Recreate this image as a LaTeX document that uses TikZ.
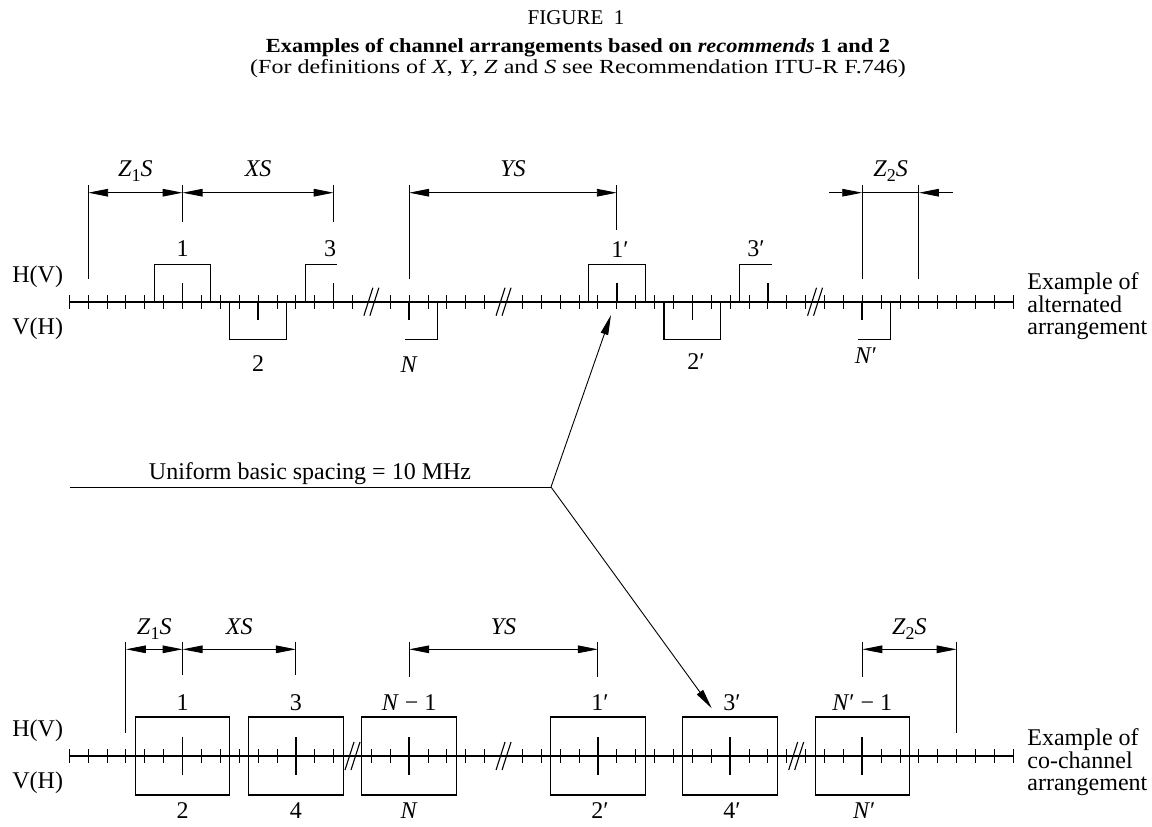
\documentclass[tikz,border=0pt]{standalone}
\usepackage{fontspec}
\setmainfont{Liberation Serif}
\newfontfamily\ttlfont[FakeStretch=1.12]{Liberation Serif}
\newfontfamily\subfont[FakeStretch=1.2]{Liberation Serif}
\usetikzlibrary{arrows.meta, positioning, calc}

\newcommand{\tk}[1]{69.3+18.88*(#1)}
\newcommand{\lowsub}[1]{\raisebox{-2.6pt}{\fontsize{9}{9}\selectfont #1}}

\begin{document}
\begin{tikzpicture}[
    x=0.5pt, y=-0.5pt,
    font=\fontsize{12}{13}\selectfont,
    >={Triangle[length=10pt, width=3.8pt]},
    axis/.style={line width=0.85pt},
    tick/.style={line width=0.45pt},
    bigtick/.style={line width=0.8pt},
    chbox/.style={line width=0.55pt},
    dimline/.style={line width=0.45pt},
    extline/.style={line width=0.45pt},
    brk/.style={line width=0.55pt},
    lbl/.style={inner sep=0pt},
    side/.style={inner sep=0pt, align=left, anchor=west, font=\fontsize{12}{10.8}\selectfont},
]
    \useasboundingbox (0,0) rectangle (1152,826);

    % Title
    \node[lbl, font=\fontsize{10.5}{12}\selectfont] (fig) at (576,18) {FIGURE\ \ 1};
    \node[lbl, align=center, font=\fontsize{10}{8.6}\selectfont] (ttl) at (578,58)
        {{\ttlfont\bfseries Examples of channel arrangements based on \textit{recommends} 1 and 2}\\
         {\subfont (For definitions of \textit{X}, \textit{Y}, \textit{Z} and \textit{S} see Recommendation ITU-R F.746)}};

    % Alternated arrangement
    \draw[axis] ({\tk{0}},301.7) -- ({\tk{50}},301.7);
    \foreach \a/\b in {0/15, 17/22, 24/50}
        \foreach \i in {\a,...,\b}
            \draw[tick] ({\tk{\i}},295) -- ({\tk{\i}},308.5);
    \foreach \i in {6,14,29,37}
        \draw[bigtick] ({\tk{\i}},301.7) -- ({\tk{\i}},283);
    \foreach \i in {10,18,33,42}
        \draw[bigtick] ({\tk{\i}},301.7) -- ({\tk{\i}},320.4);
    \foreach \b in {16,23,39.5} {
        \draw[brk] ({\tk{\b}-7.5},315.7) -- ({\tk{\b}+1.5},287.7);
        \draw[brk] ({\tk{\b}-1.5},315.7) -- ({\tk{\b}+7.5},287.7);
    }
    \draw[chbox] ({\tk{4.5}},301.7) |- ({\tk{7.5}},264.3) -- ({\tk{7.5}},301.7);
    \draw[chbox] ({\tk{8.5}},301.7) |- ({\tk{11.5}},339.3) -- ({\tk{11.5}},301.7);
    \draw[chbox] ({\tk{12.5}},301.7) |- ({\tk{14.2}},264.3);
    \draw[chbox] ({\tk{17.8}},339.3) -| ({\tk{19.5}},301.7);
    \draw[chbox] ({\tk{27.5}},301.7) |- ({\tk{30.5}},264.3) -- ({\tk{30.5}},301.7);
    \draw[chbox] ({\tk{31.5}},301.7) |- ({\tk{34.5}},339.3) -- ({\tk{34.5}},301.7);
    \draw[chbox] ({\tk{35.5}},301.7) |- ({\tk{37.2}},264.3);
    \draw[chbox] ({\tk{41.8}},339.3) -| ({\tk{43.5}},301.7);

    \node[lbl] (a1) at ({\tk{6}},249) {1};
    \node[lbl] (a3) at (330,249) {3};
    \node[lbl] (a1p) at (620,250) {1′};
    \node[lbl] (a3p) at (756,249) {3′};
    \node[lbl] (a2) at ({\tk{10}},364) {2};
    \node[lbl] (aN) at ({\tk{18}},365) {\textit{N}};
    \node[lbl] (a2p) at (696,362) {2′};
    \node[lbl] (aNp) at (866,356) {\textit{N}′};

    % dimensions above
    \foreach \n/\i/\e in {a/1/279.3, b/6/221.7, c/14/221.7, d/18/279.3, e/29/230, f/42/279.3, g/45/279.3} {
        \coordinate (t\n) at ({\tk{\i}},192.7);
        \draw[extline] ({\tk{\i}},185) -- ({\tk{\i}},\e);
    }
    \draw[dimline, <->] (ta) -- (tb);
    \draw[dimline, <->] (tb) -- (tc);
    \draw[dimline, <->] (td) -- (te);
    \coordinate (tfo) at ($(tf)+(-33,0)$);
    \coordinate (tgo) at ($(tg)+(34,0)$);
    \draw[dimline, ->] (tfo) -- (tf);
    \draw[dimline] (tf) -- (tg);
    \draw[dimline, ->] (tgo) -- (tg);
    \node[lbl, anchor=base] (tz1) at ($(ta)!0.5!(tb)+(0,-16)$) {\textit{Z}\lowsub{1}\textit{S}};
    \node[lbl, anchor=base] (txs) at ($(tb)!0.5!(tc)+(0,-16)$) {\textit{XS}};
    \node[lbl, anchor=base] (tys) at ($(td)!0.5!(te)+(0,-16)$) {\textit{YS}};
    \node[lbl, anchor=base] (tz2) at ($(tf)!0.5!(tg)+(0,-16)$) {\textit{Z}\lowsub{2}\textit{S}};

    % Co-channel arrangement
    \draw[axis] ({\tk{0}},756) -- ({\tk{50}},756);
    \foreach \a/\b in {0/14, 16/22, 24/50}
        \foreach \i in {\a,...,\b}
            \draw[tick] ({\tk{\i}},749.3) -- ({\tk{\i}},762.8);
    \foreach \b in {15,23,38.5} {
        \draw[brk] ({\tk{\b}-7.5},770) -- ({\tk{\b}+1.5},742);
        \draw[brk] ({\tk{\b}-1.5},770) -- ({\tk{\b}+7.5},742);
    }
    \foreach \c in {6,12,18,28,35,42} {
        \draw[chbox] ({\tk{\c-2.5}},717) rectangle ({\tk{\c+2.5}},795);
        \draw[bigtick] ({\tk{\c}},737) -- ({\tk{\c}},775);
    }
    \node[lbl] (b1) at ({\tk{6}},703) {1};
    \node[lbl] (b3) at ({\tk{12}},703) {3};
    \node[lbl] (bN1) at ({\tk{18}},703) {\textit{N} − 1};
    \node[lbl] (b1p) at ({\tk{28}+2},703) {1′};
    \node[lbl] (b3p) at ({\tk{35}+2},703) {3′};
    \node[lbl] (bNp1) at ({\tk{42}},703) {\textit{N}′ − 1};
    \node[lbl] (b2) at ({\tk{6}},811) {2};
    \node[lbl] (b4) at ({\tk{12}},811) {4};
    \node[lbl] (bN) at ({\tk{18}},811) {\textit{N}};
    \node[lbl] (b2p) at ({\tk{28}+2},811) {2′};
    \node[lbl] (b4p) at ({\tk{35}+2},811) {4′};
    \node[lbl] (bNp) at ({\tk{42}+2},811) {\textit{N}′};

    % dimensions above
    \foreach \n/\i/\e in {a/3/733.3, b/6/675, c/12/675, d/18/676.7, e/28/676.7, f/42/676.7, g/47/733.3} {
        \coordinate (u\n) at ({\tk{\i}},649.3);
        \draw[extline] ({\tk{\i}},641.7) -- ({\tk{\i}},\e);
    }
    \draw[dimline, <->] (ua) -- (ub);
    \draw[dimline, <->] (ub) -- (uc);
    \draw[dimline, <->] (ud) -- (ue);
    \draw[dimline, <->] (uf) -- (ug);
    \node[lbl, anchor=base] (uz1) at ($(ua)!0.5!(ub)+(0,-15)$) {\textit{Z}\lowsub{1}\textit{S}};
    \node[lbl, anchor=base] (uxs) at ($(ub)!0.5!(uc)+(0,-15)$) {\textit{XS}};
    \node[lbl, anchor=base] (uys) at ($(ud)!0.5!(ue)+(0,-15)$) {\textit{YS}};
    \node[lbl, anchor=base] (uz2) at ($(uf)!0.5!(ug)+(0,-15)$) {\textit{Z}\lowsub{2}\textit{S}};

    % basic spacing pointer
    \coordinate (ustart) at (70,487);
    \coordinate (ujoin) at (551,487);
    \coordinate (utop) at (611,315);
    \coordinate (ubot) at (711.7,708.3);
    \draw[dimline] (ustart) -- (ujoin);
    \draw[dimline, ->] (ujoin) -- (utop);
    \draw[dimline, ->] (ujoin) -- (ubot);
    \node[lbl, anchor=base] (uni) at (310,479) {Uniform basic spacing = 10 MHz};

    % side texts
    \node[side] (hv1) at (12,277) {H(V)};
    \node[side] (vh1) at (12,329) {V(H)};
    \node[side] (hv2) at (12,731) {H(V)};
    \node[side] (vh2) at (12,783) {V(H)};
    \node[side] (alt) at (1027,306) {Example of\\alternated\\arrangement};
    \node[side] (coc) at (1027,762) {Example of\\co-channel\\arrangement};
\end{tikzpicture}
\end{document}
